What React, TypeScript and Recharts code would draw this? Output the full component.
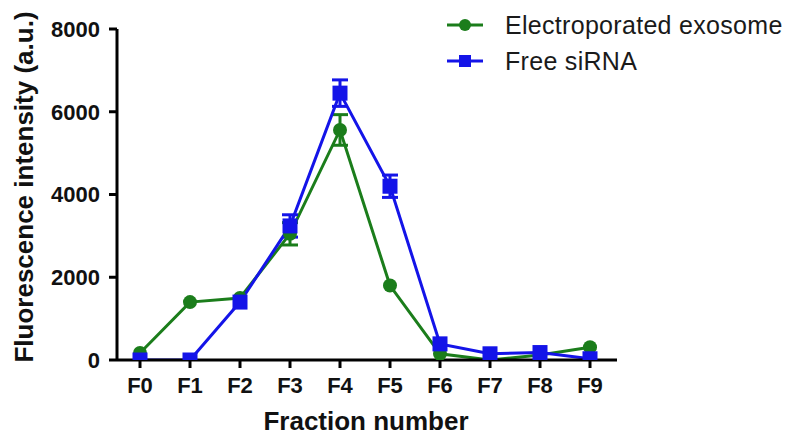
import React from "react";
import {
  LineChart,
  Line,
  XAxis,
  YAxis,
  ErrorBar,
  Legend,
  Label,
} from "recharts";

// fractions collected from the column
const fractions = ["F0", "F1", "F2", "F3", "F4", "F5", "F6", "F7", "F8", "F9"];

// fluorescence (a.u.)
const exosome = [170, 1400, 1500, 3050, 5560, 1800, 150, 0, 120, 310];
const exosomeErr = [0, 0, 0, 270, 370, 0, 0, 0, 0, 0];
const siRNA = [0, 0, 1400, 3240, 6450, 4200, 390, 150, 180, 30];
const siRNAErr = [0, 0, 0, 270, 320, 270, 0, 0, 0, 0];

const yTicks = [0, 2000, 4000, 6000, 8000];

const GREEN = "#1b7d1b";
const BLUE = "#1414e8";
const FONT = "'Liberation Sans', Arial, sans-serif";

const data = fractions.map((f, i) => ({
  fraction: f,
  exosome: exosome[i],
  exosomeErr: exosomeErr[i],
  siRNA: siRNA[i],
  siRNAErr: siRNAErr[i],
}));

const legendItems = [
  { label: "Electroporated exosome", color: GREEN, shape: "circle" },
  { label: "Free siRNA", color: BLUE, shape: "square" },
];

const SquareDot = (props: any) => {
  const { cx, cy, key } = props;
  if (cx == null || cy == null) return null;
  return <rect key={key} x={cx - 7.5} y={cy - 7.5} width={15} height={15} fill={BLUE} />;
};

const LegendContent = () => (
  <div style={{ position: "relative", width: 358, height: 80, fontFamily: FONT, fontSize: 25, color: "#1a1a1a" }}>
    {legendItems.map((it, i) => (
      <div
        key={it.label}
        style={{ position: "absolute", left: 0, top: 7 + i * 36, height: 36, display: "flex", alignItems: "center", whiteSpace: "nowrap" }}
      >
        <svg width={60} height={36}>
          <line x1={7} x2={43} y1={18} y2={18} stroke={it.color} strokeWidth={3} />
          {it.shape === "circle" ? (
            <circle cx={25} cy={18} r={6} fill={it.color} />
          ) : (
            <rect x={19} y={12} width={12} height={12} fill={it.color} />
          )}
        </svg>
        <span style={{ marginLeft: 5, letterSpacing: 0.3 }}>{it.label}</span>
      </div>
    ))}
  </div>
);

const tickStyle = { fontFamily: FONT, fontSize: 22, fontWeight: 700, fill: "#111" };

export default function App() {
  return (
    <div style={{ position: "absolute", left: 0, top: 0, width: 798, height: 435, background: "#fff" }}>
      <LineChart width={798} height={435} data={data} margin={{ top: 29, right: 181, bottom: 35, left: 57 }}>
        <XAxis
          dataKey="fraction"
          padding={{ left: 23, right: 27 }}
          height={40}
          stroke="#000"
          strokeWidth={3}
          tickSize={8}
          tickMargin={9}
          tick={tickStyle}
          interval={0}
        >
          <Label
            content={() => (
              <text x={366} y={430} textAnchor="middle" fontFamily={FONT} fontSize={26} fontWeight={700} fill="#111">
                Fraction number
              </text>
            )}
          />
        </XAxis>
        <YAxis
          width={60}
          domain={[0, 8000]}
          ticks={yTicks}
          allowDataOverflow
          stroke="#000"
          strokeWidth={3}
          tickSize={8}
          tickMargin={9}
          tick={tickStyle}
        >
          <Label
            content={() => (
              <text
                x={24}
                y={187}
                transform="rotate(-90 24 187)"
                textAnchor="middle"
                dominantBaseline="central"
                fontFamily={FONT}
                fontSize={26}
                fontWeight={700}
                fill="#111"
              >
                Fluorescence intensity (a.u.)
              </text>
            )}
          />
        </YAxis>
        <Legend
          layout="vertical"
          align="center"
          verticalAlign="middle"
          wrapperStyle={{ left: 440, top: 0, width: 358, height: 80 }}
          content={<LegendContent />}
        />
        <Line
          dataKey="exosome"
          stroke={GREEN}
          strokeWidth={3}
          dot={{ r: 7, fill: GREEN, stroke: GREEN, strokeWidth: 0 }}
          isAnimationActive={false}
        >
          <ErrorBar dataKey="exosomeErr" width={8} stroke={GREEN} strokeWidth={3} direction="y" />
        </Line>
        <Line
          dataKey="siRNA"
          stroke={BLUE}
          strokeWidth={3}
          dot={<SquareDot />}
          isAnimationActive={false}
        >
          <ErrorBar dataKey="siRNAErr" width={8} stroke={BLUE} strokeWidth={3} direction="y" />
        </Line>
      </LineChart>
    </div>
  );
}
